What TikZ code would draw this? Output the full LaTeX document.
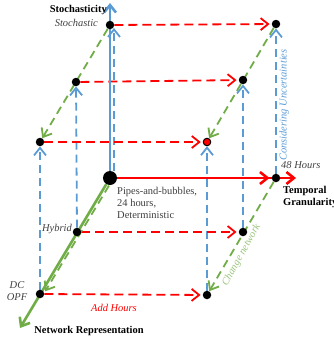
\documentclass[tikz,border=0pt]{standalone}
\usepackage{fontspec}
\setmainfont{Liberation Serif}
\usetikzlibrary{arrows.meta,backgrounds}
\definecolor{axblue}{HTML}{5B9BD5}
\definecolor{axred}{HTML}{FF0000}
\definecolor{axgreen}{HTML}{70AD47}
\definecolor{lightgreen}{HTML}{9CC57F}
\definecolor{txtgray}{HTML}{404040}
\begin{document}
\begin{tikzpicture}[x=1bp,y=-1bp,
  dot/.style={circle,fill=black,inner sep=0pt,minimum size=8.5bp},
  bigdot/.style={dot,minimum size=14bp},
  barb/.style={-{Straight Barb[length=7.5bp,width=12bp]}},
  bluedash/.style={draw=axblue,line width=1.8bp,dash pattern=on 8bp off 5bp,barb},
  reddash/.style={draw=axred,line width=1.8bp,dash pattern=on 9bp off 5bp,barb,shorten >=2bp},
  greendash/.style={draw=axgreen,line width=1.8bp,dash pattern=on 8bp off 5bp,barb},
  axis/.style={line width=2.6bp,barb},
  plain/.style={inner sep=0pt,font=\fontsize{10.5}{11.8}\selectfont,text=txtgray},
  boldlbl/.style={inner sep=0pt,font=\fontsize{10.5}{12}\selectfont\bfseries,text=black},
  ital/.style={inner sep=0pt,font=\fontsize{10.5}{12.5}\selectfont\itshape,text=txtgray}
]
\useasboundingbox (0,0) rectangle (334,343);
% points
\node[bigdot] (O) at (110,178) {};
\node[dot] (S) at (110,25) {};
\node[dot] (P2) at (76,82) {};
\node[dot] (P3) at (40,142) {};
\node[dot] (R1) at (276,24) {};
\node[dot] (R2) at (243,80) {};
\node[dot,fill=axred,draw=black,line width=1bp,minimum size=7.5bp] (R3) at (207,142) {};
\node[dot] (T) at (276,178) {};
\node[dot] (H) at (77,232) {};
\node[dot] (D) at (40,294) {};
\node[dot] (R4) at (243,232) {};
\node[dot] (R5) at (207,295) {};
\coordinate (Ztip) at (20,328);
\coordinate (Ytip) at (110,3);
\coordinate (Xtip) at (296,178);
\begin{pgfonlayer}{background}
% blue dashed (stochasticity)
\draw[bluedash] (D) -- (P3);
\draw[bluedash] (H) -- (P2);
\draw[bluedash,shorten >=3bp] ([xshift=4bp]O.north) -- ([xshift=4bp]S.center);
\draw[bluedash] (R5) -- (R3);
\draw[bluedash] (R4) -- (R2);
\draw[bluedash] (T) -- (R1);
% red dashed (hours)
\draw[reddash] (S) -- (R1);
\draw[reddash] (P2) -- (R2);
\draw[reddash] (P3) -- (R3);
\draw[reddash] (H) -- (R4);
\draw[reddash] (D) -- (R5);
% green dashed (network)
\draw[greendash] (S) -- (P3);
\draw[greendash] (R1) -- (R3);
\draw[greendash] (T) -- (R5);
\draw[greendash,shorten <=7bp,shorten >=5bp] ([shift={(2.6bp,-1.6bp)}]O.center) -- ([shift={(2.6bp,-1.6bp)}]D.center);
% axes
\draw[axis,draw=axgreen] (O) -- (Ztip);
\draw[axis,draw=axblue] (O) -- (Ytip);
\draw[axis,draw=axred,shorten >=2bp] (O) -- (T);
\draw[axis,draw=axred] (O) -- (Xtip);
\end{pgfonlayer}
% labels
\node[boldlbl,anchor=base east] (ylab) at (107,12) {Stochasticity};
\node[ital,anchor=base east] (stoch) at (98,26) {Stochastic};
\node[plain,align=left,anchor=north west] (pipes) at (117,187.5) {Pipes-and-bubbles,\\24 hours,\\Deterministic};
\node[ital,anchor=base east] (hyb) at (72,231) {Hybrid};
\node[ital,align=center,anchor=north] (dc) at (17,281) {DC\\OPF};
\node[ital,text=axred,anchor=base] (addh) at (114,311) {Add Hours};
\node[boldlbl,anchor=base] (zlab) at (89,333) {Network Representation};
\node[boldlbl,align=left,anchor=north west] (xlab) at (283,186.5) {Temporal\\Granularity};
\node[ital,anchor=base west] (h48) at (281,168) {48 Hours};
\node[ital,text=axblue,rotate=90] (unc) at (284,105) {Considering Uncertainties};
\node[ital,text=lightgreen,rotate=61] (chg) at (241.5,255) {Change network};
\end{tikzpicture}
\end{document}
